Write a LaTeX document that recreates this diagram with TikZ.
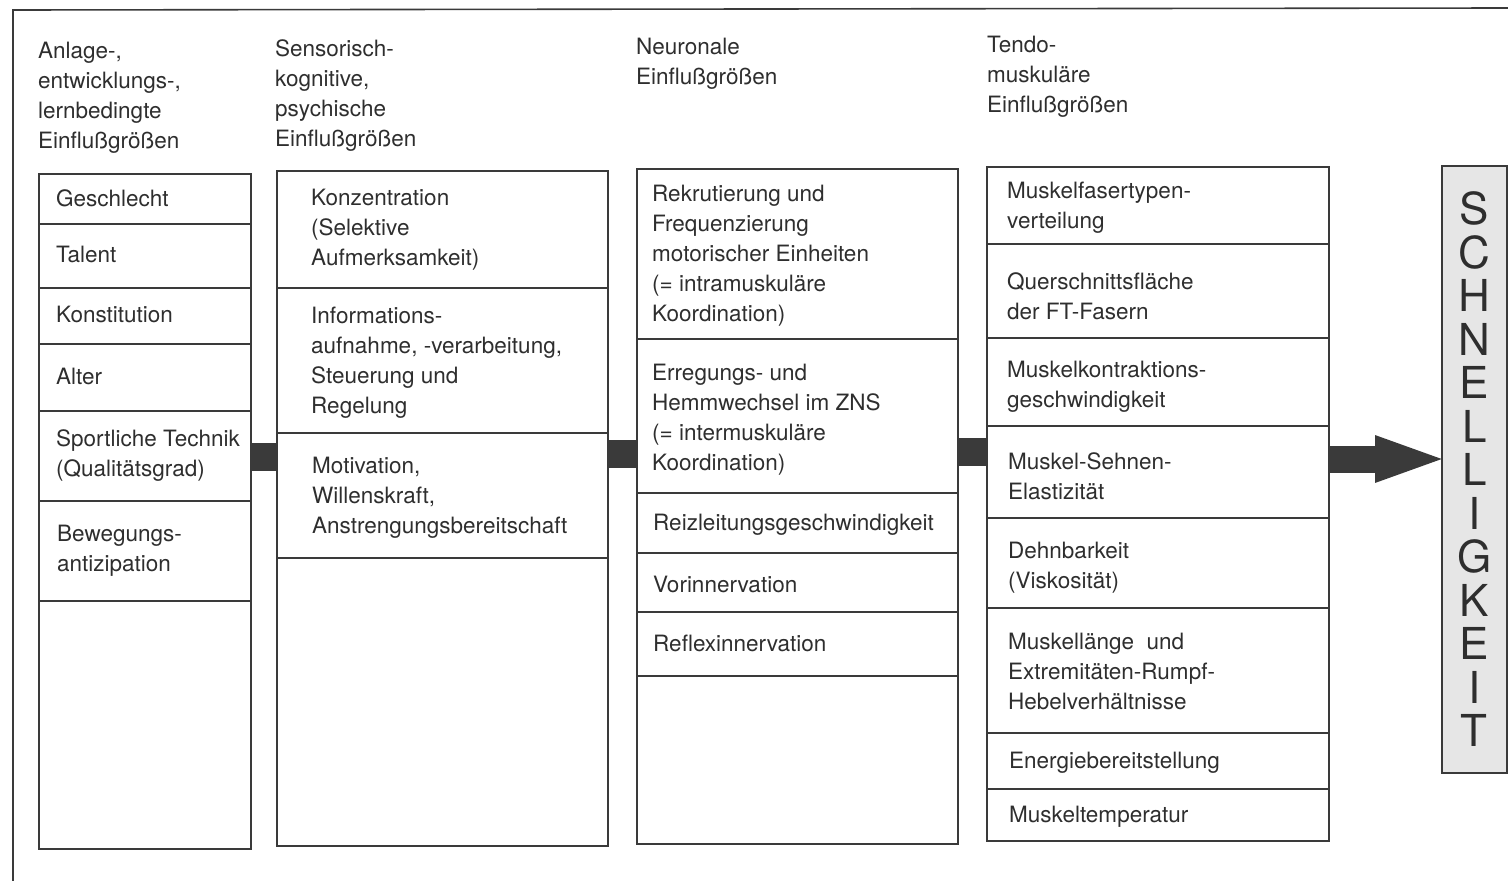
\documentclass[tikz,border=0pt]{standalone}
\usepackage{fontspec}
\setmainfont{TeX Gyre Heros}
\usetikzlibrary{arrows.meta}
\definecolor{ink}{HTML}{3A3A3A}
\definecolor{txtc}{HTML}{2E2E2E}
\definecolor{boxfill}{HTML}{E6E6E6}
\begin{document}
\begin{tikzpicture}[x=1pt,y=-1pt,
  cellbox/.style={draw=ink, line width=1.6pt, inner sep=0pt, anchor=north west},
  txt/.style={text=txtc, align=left, inner sep=0pt, anchor=west, font=\fontsize{22.5}{30}\selectfont},
  head/.style={text=txtc, align=left, inner sep=0pt, anchor=base west, font=\fontsize{22.5}{30}\selectfont},
  conn/.style={draw=ink, line width=28pt},
  bigarrow/.style={draw=ink, line width=27pt, -{Triangle[length=74pt,width=41pt]}}
]
\useasboundingbox (0,0) rectangle (1508,881);
% outer frame
\coordinate (fb) at (13,881);
\coordinate (ftl) at (13,10);
\coordinate (ftr) at (1508,8);
\draw[ink, line width=1.6pt] (fb) -- (ftl) -- (ftr);

% headers (anchor = baseline of last line)
\node[head] (h1) at (38,148) {Anlage-,\\entwicklungs-,\\lernbedingte\\Einflußgrößen};
\node[head] (h2) at (275,146) {Sensorisch-\\kognitive,\\psychische\\Einflußgrößen};
\node[head] (h3) at (636,84) {Neuronale\\Einflußgrößen};
\node[head] (h4) at (987,112) {Tendo-\\muskuläre\\Einflußgrößen};

% column 1
\node[cellbox, minimum width=212pt, minimum height=675pt] (col1) at (38,173) {};
\node[cellbox, minimum width=212pt, minimum height=50pt] (c11) at (38,173) {};
\node[cellbox, minimum width=212pt, minimum height=64pt] (c12) at (38,223) {};
\node[cellbox, minimum width=212pt, minimum height=56pt] (c13) at (38,287) {};
\node[cellbox, minimum width=212pt, minimum height=67pt] (c14) at (38,343) {};
\node[cellbox, minimum width=212pt, minimum height=90pt] (c15) at (38,410) {};
\node[cellbox, minimum width=212pt, minimum height=100pt] (c16) at (38,500) {};
\node[txt] (t11) at ([xshift=18pt,yshift=1pt]c11.west) {Geschlecht};
\node[txt] (t12) at ([xshift=18pt,yshift=1pt]c12.west) {Talent};
\node[txt] (t13) at ([xshift=18pt,yshift=1pt]c13.west) {Konstitution};
\node[txt] (t14) at ([xshift=18pt,yshift=1pt]c14.west) {Alter};
\node[txt] (t15) at ([xshift=18pt]c15.west) {Sportliche Technik\\(Qualitätsgrad)};
\node[txt] (t16) at ([xshift=19pt]c16.west) {Bewegungs-\\antizipation};

% column 2
\node[cellbox, minimum width=331pt, minimum height=675pt] (col2) at (276,170) {};
\node[cellbox, minimum width=331pt, minimum height=117pt] (c21) at (276,170) {};
\node[cellbox, minimum width=331pt, minimum height=145pt] (c22) at (276,287) {};
\node[cellbox, minimum width=331pt, minimum height=125pt] (c23) at (276,432) {};
\node[txt] (t21) at ([xshift=35pt]c21.west) {Konzentration\\(Selektive\\Aufmerksamkeit)};
\node[txt] (t22) at ([xshift=35pt,yshift=-2pt]c22.west) {Informations-\\aufnahme, -verarbeitung,\\Steuerung und\\Regelung};
\node[txt] (t23) at ([xshift=36pt,yshift=-2pt]c23.west) {Motivation,\\Willenskraft,\\Anstrengungsbereitschaft};

% column 3
\node[cellbox, minimum width=321pt, minimum height=675pt] (col3) at (636,168) {};
\node[cellbox, minimum width=321pt, minimum height=170pt] (c31) at (636,168) {};
\node[cellbox, minimum width=321pt, minimum height=154pt] (c32) at (636,338) {};
\node[cellbox, minimum width=321pt, minimum height=60pt] (c33) at (636,492) {};
\node[cellbox, minimum width=321pt, minimum height=59pt] (c34) at (636,552) {};
\node[cellbox, minimum width=321pt, minimum height=64pt] (c35) at (636,611) {};
\node[txt] (t31) at ([xshift=16pt,yshift=-2pt]c31.west) {Rekrutierung und\\Frequenzierung\\motorischer Einheiten\\(= intramuskuläre\\Koordination)};
\node[txt] (t32) at ([xshift=16pt,yshift=-4pt]c32.west) {Erregungs- und\\Hemmwechsel im ZNS\\(= intermuskuläre\\Koordination)};
\node[txt] (t33) at ([xshift=17pt,yshift=-2pt]c33.west) {Reizleitungsgeschwindigkeit};
\node[txt] (t34) at ([xshift=17pt,yshift=-2pt]c34.west) {Vorinnervation};
\node[txt] (t35) at ([xshift=17pt]c35.west) {Reflexinnervation};

% column 4
\node[cellbox, minimum width=342pt, minimum height=674pt] (col4) at (986,166) {};
\node[cellbox, minimum width=342pt, minimum height=77pt] (c41) at (986,166) {};
\node[cellbox, minimum width=342pt, minimum height=94pt] (c42) at (986,243) {};
\node[cellbox, minimum width=342pt, minimum height=88pt] (c43) at (986,337) {};
\node[cellbox, minimum width=342pt, minimum height=92pt] (c44) at (986,425) {};
\node[cellbox, minimum width=342pt, minimum height=90pt] (c45) at (986,517) {};
\node[cellbox, minimum width=342pt, minimum height=125pt] (c46) at (986,607) {};
\node[cellbox, minimum width=342pt, minimum height=56pt] (c47) at (986,732) {};
\node[cellbox, minimum width=342pt, minimum height=52pt] (c48) at (986,788) {};
\node[txt] (t41) at ([xshift=21pt,yshift=-2pt]c41.west) {Muskelfasertypen-\\verteilung};
\node[txt] (t42) at ([xshift=21pt,yshift=-5pt]c42.west) {Querschnittsfläche\\der FT-Fasern};
\node[txt] (t43) at ([xshift=21pt,yshift=-5pt]c43.west) {Muskelkontraktions-\\geschwindigkeit};
\node[txt] (t44) at ([xshift=22pt,yshift=-4pt]c44.west) {Muskel-Sehnen-\\Elastizität};
\node[txt] (t45) at ([xshift=22pt,yshift=-5pt]c45.west) {Dehnbarkeit\\(Viskosität)};
\node[txt] (t46) at ([xshift=22pt,yshift=-1pt]c46.west) {Muskellänge~ und\\Extremitäten-Rumpf-\\Hebelverhältnisse};
\node[txt] (t47) at ([xshift=23pt,yshift=-2pt]c47.west) {Energiebereitstellung};
\node[txt] (t48) at ([xshift=23pt,yshift=-2pt]c48.west) {Muskeltemperatur};

% result box
\node[cellbox, fill=boxfill, minimum width=65pt, minimum height=607pt] (res) at (1441,165) {};
\node[text=txtc, align=center, inner sep=0pt, font=\fontsize{44}{43.5}\selectfont] (restxt) at (res.center)
  {S\\C\\H\\N\\E\\L\\L\\I\\G\\K\\E\\I\\T};

% connectors
\draw[conn] (col1.east |- 0,457) -- (col2.west |- 0,457);
\draw[conn] (col2.east |- 0,454) -- (col3.west |- 0,454);
\draw[conn] (col3.east |- 0,452) -- (col4.west |- 0,452);
\draw[bigarrow] (col4.east |- 0,459) -- ([xshift=8pt]res.west |- 0,459);
\end{tikzpicture}
\end{document}
